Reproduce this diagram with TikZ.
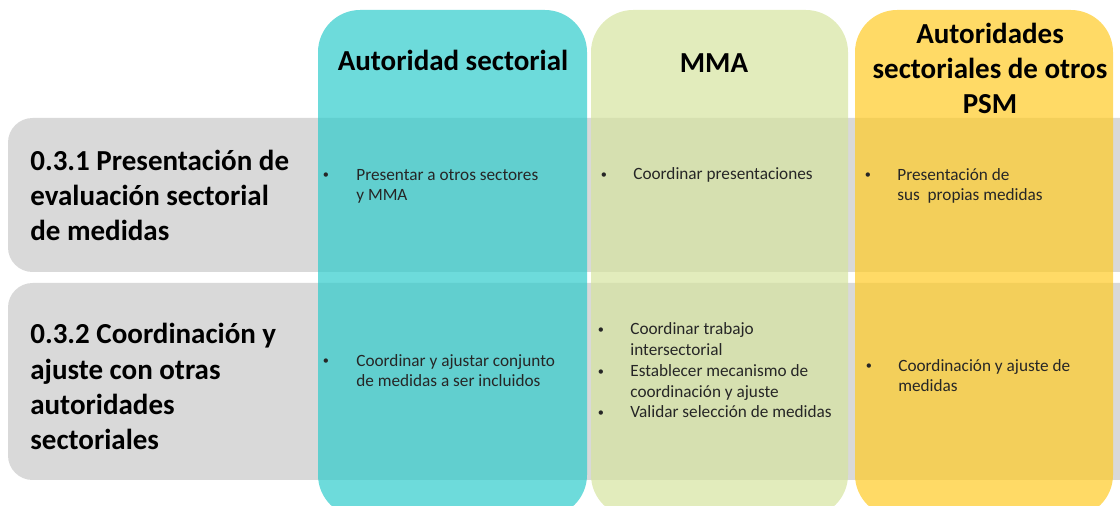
\documentclass[tikz,border=0pt]{standalone}
\usepackage{fontspec}
\setmainfont{Carlito}
\usetikzlibrary{positioning}

\definecolor{grisfila}{RGB}{217,217,217}
\definecolor{turquesa}{RGB}{49,204,204}
\definecolor{verdeclaro}{RGB}{214,228,160}
\definecolor{amarillo}{RGB}{255,203,39}
\definecolor{textocuerpo}{RGB}{38,38,38}

\tikzset{
  fila/.style={fill=grisfila, rounded corners=14pt},
  columna/.style={rounded corners=24pt, fill opacity=0.71},
  cabecera/.style={font=\bfseries\fontsize{16.5}{20.2}\selectfont, align=center, inner sep=0pt, anchor=base},
  titulo/.style={font=\bfseries\fontsize{16.5}{20.2}\selectfont, align=left, inner sep=0pt, anchor=base west},
  vineta/.style={font=\fontsize{7}{8}\selectfont, text=textocuerpo, inner sep=0pt, anchor=base},
  cuerpo/.style={font=\fontsize{9.8}{11.9}\selectfont, text=textocuerpo, align=left, inner sep=0pt, anchor=base west}
}

\begin{document}
\begin{tikzpicture}[x=0.02cm, y=-0.02cm]
  \useasboundingbox (0,0) rectangle (1120,506);
  \clip (0,0) rectangle (1120,506);

  % Filas
  \fill[fila] (8,118) rectangle (1150,272);
  \fill[fila] (8,283) rectangle (1150,480);

  % Columnas
  \fill[columna, fill=turquesa] (318,10) rectangle (587,517);
  \fill[columna, fill=verdeclaro] (591,10) rectangle (848,517);
  \fill[columna, fill=amarillo] (855,10) rectangle (1113,517);

  % Cabeceras (base = ultima linea)
  \node[cabecera] (hAut) at (453,71) {Autoridad sectorial};
  \node[cabecera] (hMMA) at (714,73) {MMA};
  \node[cabecera] (hPSM) at (990,114) {Autoridades\\sectoriales de otros\\PSM};

  % Titulos de filas
  \node[titulo] (t031) at (30,241) {0.3.1 Presentación de\\evaluación sectorial\\de medidas};
  \node[titulo] (t032) at (30,450) {0.3.2 Coordinación y\\ajuste con otras\\autoridades\\sectoriales};

  % Fila 0.3.1
  \node[vineta] (b11) at (326,179) {\textbullet};
  \node[cuerpo] (c11) at (356,201) {Presentar a otros sectores\\y MMA};
  \node[vineta] (b12) at (604,179) {\textbullet};
  \node[cuerpo] (c12) at (633,180) {Coordinar presentaciones};
  \node[vineta] (b13) at (868,179) {\textbullet};
  \node[cuerpo] (c13) at (897,201) {Presentación de\\sus\ \ propias medidas};

  % Fila 0.3.2
  \node[vineta] (b21) at (326,365) {\textbullet};
  \node[cuerpo] (c21) at (356,387) {Coordinar y ajustar conjunto\\de medidas a ser incluidos};
  \node[vineta] (b22a) at (601,334) {\textbullet};
  \node[vineta] (b22b) at (601,376) {\textbullet};
  \node[vineta] (b22c) at (601,417) {\textbullet};
  \node[cuerpo] (c22) at (630,418) {Coordinar trabajo\\intersectorial\\Establecer mecanismo de\\coordinación y ajuste\\Validar selección de medidas};
  \node[vineta] (b23) at (869,370) {\textbullet};
  \node[cuerpo] (c23) at (898,392) {Coordinación y ajuste de\\medidas};
\end{tikzpicture}
\end{document}
